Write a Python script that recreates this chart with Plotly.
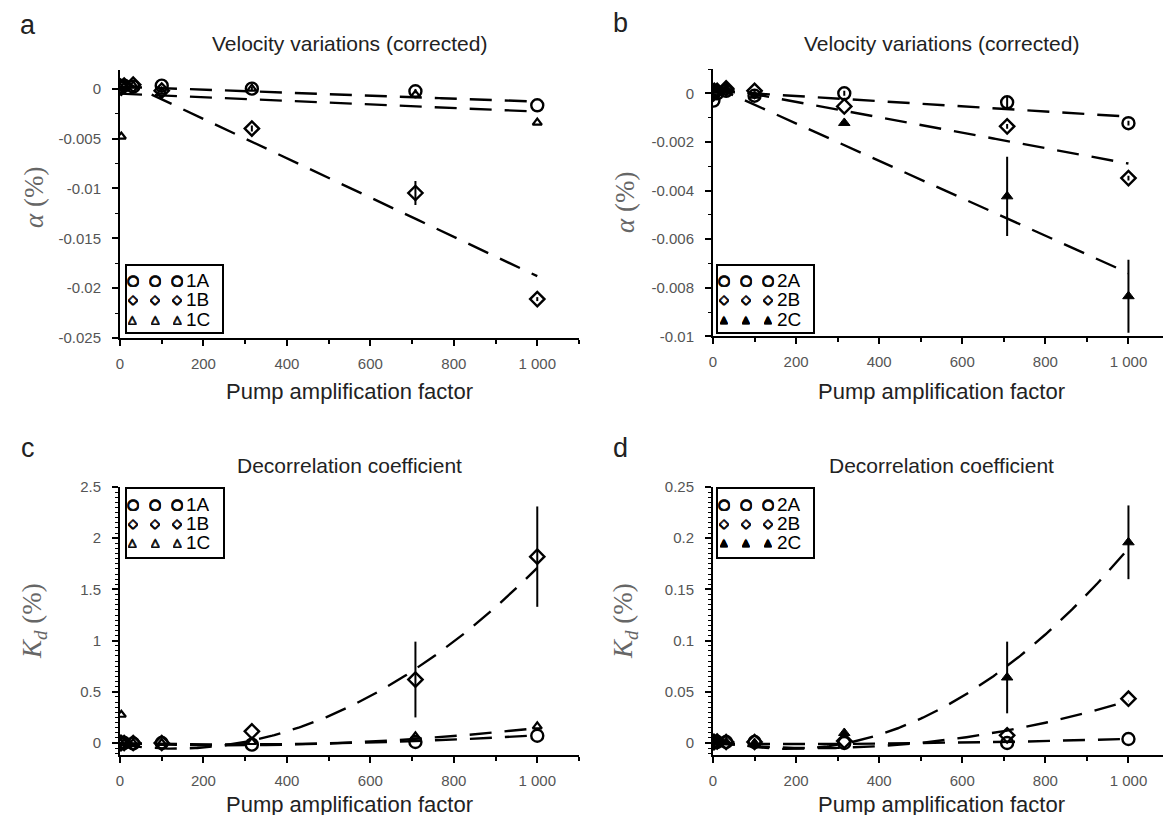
import numpy as np
import plotly.graph_objects as go

W, H = 1171, 815

# ---------------- data ----------------
pump = [1, 3.16, 10, 31.6, 100, 316, 708, 1000]

# panel a : velocity variations, series 1
a_1A = [0.0001, 0.0002, 0.0003, 0.0002, 0.0003, 0.0000, -0.00026, -0.00167]
a_1A_err = [0, 0, 0, 0, 0, 0.0002, 0.0002, 0]
a_1B = [0.0002, 0.0001, 0.0003, 0.0004, -0.0002, -0.0040, -0.01046, -0.0211]
a_1B_err = [0, 0, 0, 0, 0.0002, 0.0003, 0.0012, 0.0002]
a_1C = [0.0001, -0.0048, 0.0002, 0.0003, -0.0003, 0.0000, -0.0006, -0.0034]
a_1C_err = [0, 0, 0, 0, 0, 0, 0, 0]

# panel b : velocity variations, series 2
b_2A = [-0.0003, 0.0001, 0.0000, 0.0001, -0.0001, 0.0000, -0.00037, -0.00123]
b_2A_err = [0, 0, 0, 0, 0, 0.0001, 0.00025, 0.0001]
b_2B = [0.0000, 0.0001, 0.0001, 0.0002, 0.0001, -0.00054, -0.00136, -0.00349]
b_2B_err = [0, 0, 0, 0, 0, 0, 0.0001, 0.0001]
b_2C = [0.0001, 0.0002, 0.0002, 0.0002, -0.0001, -0.00122, -0.00424, -0.00835]
b_2C_err = [0, 0, 0, 0.0003, 0, 0, 0.00163, 0.0015]

# panel c : decorrelation, series 1
c_1A = [0.0, 0.0, 0.0, -0.005, 0.0, -0.016, 0.01, 0.071]
c_1A_err = [0, 0, 0, 0, 0, 0, 0, 0]
c_1B = [0.0, 0.0, 0.0, 0.0, 0.0, 0.114, 0.62, 1.82]
c_1B_err = [0, 0, 0, 0, 0, 0, 0.37, 0.49]
c_1C = [0.0, 0.276, 0.0, 0.0, 0.0, 0.01, 0.065, 0.163]
c_1C_err = [0, 0, 0, 0, 0, 0, 0, 0]

# panel d : decorrelation, series 2
d_2A = [0.001, 0.001, 0.001, 0.001, 0.001, 0.0, 0.0, 0.0039]
d_2A_err = [0, 0, 0, 0, 0, 0, 0, 0]
d_2B = [0.001, 0.001, 0.0015, 0.001, 0.001, 0.002, 0.0075, 0.0433]
d_2B_err = [0, 0, 0, 0, 0, 0, 0, 0]
d_2C = [0.001, 0.001, 0.001, 0.001, 0.0, 0.0098, 0.064, 0.196]
d_2C_err = [0, 0, 0, 0, 0, 0, 0.035, 0.036]

# fit coefficients (polynomial in pump/1000, lowest order first)
fit_a = {"1A": [0.0002, -0.0015], "1B": [0.0009, -0.0197], "1C": [-0.0005, -0.0018]}
fit_b = {"2A": [0.0001, -0.00106], "2B": [0.00028, -0.00317], "2C": [0.0003, -0.0077]}
fit_c = {"1A": [-0.0032, -0.0853, 0.1635], "1B": [-0.014, -0.621, 2.345], "1C": [-0.003, -0.156, 0.305]}
fit_d = {"2A": [-0.001, -0.002, 0.007], "2B": [0.0, -0.0403, 0.0813], "2C": [0.0039, -0.1066, 0.2927]}

x_tickvals = [0, 200, 400, 600, 800, 1000]
x_ticktext = ["0", "200", "400", "600", "800", "1 000"]
ya_tickvals = [0, -0.005, -0.01, -0.015, -0.02, -0.025]
ya_ticktext = ["0", "-0.005", "-0.01", "-0.015", "-0.02", "-0.025"]
yb_tickvals = [0, -0.002, -0.004, -0.006, -0.008, -0.01]
yb_ticktext = ["0", "-0.002", "-0.004", "-0.006", "-0.008", "-0.01"]
yc_tickvals = [0, 0.5, 1, 1.5, 2, 2.5]
yc_ticktext = ["0", "0.5", "1", "1.5", "2", "2.5"]
yd_tickvals = [0, 0.05, 0.1, 0.15, 0.2, 0.25]
yd_ticktext = ["0", "0.05", "0.1", "0.15", "0.2", "0.25"]

# ---------------- helpers ----------------
def px(x):
    return x / W

def py(y):
    return 1 - y / H

fig = go.Figure()

SANS = "Liberation Sans, Arial, sans-serif"
SERIF = "Liberation Serif, Times New Roman, serif"


def add_panel(idx, series, fits, filled_tri):
    xa = "x" if idx == 1 else f"x{idx}"
    ya = "y" if idx == 1 else f"y{idx}"
    xfit = np.linspace(0, 1000, 201)
    for name, coefs in fits.items():
        X = xfit / 1000.0
        yfit = sum(c * X ** k for k, c in enumerate(coefs))
        fig.add_trace(go.Scatter(x=xfit, y=yfit, mode="lines", xaxis=xa, yaxis=ya,
                                 line=dict(color="black", width=2.4, dash="22px,13px"),
                                 hoverinfo="skip", showlegend=False))
    for name, (vals, errs) in series.items():
        letter = name[-1]
        if letter == "C":
            if filled_tri:
                marker = dict(symbol="triangle-up", size=10, color="black",
                              line=dict(color="black", width=1))
            else:
                marker = dict(symbol="triangle-up-open", size=8, color="black",
                              line=dict(color="black", width=2.2))
        elif letter == "A":
            marker = dict(symbol="circle-open", size=12, color="black",
                          line=dict(color="black", width=2.4))
        else:
            marker = dict(symbol="diamond-open", size=11, color="black",
                          line=dict(color="black", width=2.4))
        fig.add_trace(go.Scatter(x=pump, y=vals, mode="markers", xaxis=xa, yaxis=ya,
                                 marker=marker, name=name, showlegend=False,
                                 error_y=dict(type="data", array=errs, visible=True,
                                              color="black", thickness=2, width=0)))


add_panel(1, {"1A": (a_1A, a_1A_err), "1B": (a_1B, a_1B_err), "1C": (a_1C, a_1C_err)}, fit_a, False)
add_panel(2, {"2A": (b_2A, b_2A_err), "2B": (b_2B, b_2B_err), "2C": (b_2C, b_2C_err)}, fit_b, True)
add_panel(3, {"1A": (c_1A, c_1A_err), "1B": (c_1B, c_1B_err), "1C": (c_1C, c_1C_err)}, fit_c, False)
add_panel(4, {"2A": (d_2A, d_2A_err), "2B": (d_2B, d_2B_err), "2C": (d_2C, d_2C_err)}, fit_d, True)

tickfont = dict(family=SANS, size=15, color="#555555")

def xaxis_cfg(x0, x1, anchor):
    return dict(domain=[px(x0), px(x1)], range=[0, 1100], anchor=anchor, automargin=False,
                showline=True, linecolor="black", linewidth=2,
                ticks="outside", ticklen=6, tickwidth=1.5, tickcolor="black",
                ticklabelstandoff=5,
                tickmode="array", tickvals=x_tickvals, ticktext=x_ticktext,
                tickfont=tickfont, showgrid=False, zeroline=False,
                minor=dict(tickmode="linear", tick0=0, dtick=100, ticks="outside",
                           ticklen=4, tickwidth=1.5, tickcolor="black", showgrid=False))

def yaxis_cfg(top, bottom, rng, tv, tt, minor_d, anchor):
    return dict(domain=[py(bottom), py(top)], range=rng, anchor=anchor, automargin=False,
                showline=True, linecolor="black", linewidth=2,
                ticks="outside", ticklen=6, tickwidth=1.5, tickcolor="black",
                ticklabelstandoff=8,
                tickmode="array", tickvals=tv, ticktext=tt,
                tickfont=tickfont, showgrid=False, zeroline=False,
                minor=dict(tickmode="linear", tick0=0, dtick=minor_d, ticks="outside",
                           ticklen=3, tickwidth=1.2, tickcolor="black", showgrid=False))

LX0, LX1 = 112, 571
RX0, RX1 = 705, 1162

fig.update_layout(
    width=W, height=H, margin=dict(l=0, r=0, t=0, b=0, autoexpand=False),
    paper_bgcolor="white", plot_bgcolor="white", showlegend=False,
    xaxis=xaxis_cfg(LX0, LX1, "y"),
    yaxis=yaxis_cfg(61.7, 330, [-0.025, 0.0019], ya_tickvals, ya_ticktext, 0.0025, "x"),
    xaxis2=xaxis_cfg(RX0, RX1, "y2"),
    yaxis2=yaxis_cfg(61, 328.3, [-0.01, 0.001], yb_tickvals, yb_ticktext, 0.001, "x2"),
    xaxis3=xaxis_cfg(LX0, LX1, "y3"),
    yaxis3=yaxis_cfg(479, 747, [-0.117, 2.5], yc_tickvals, yc_ticktext, 0.05, "x3"),
    xaxis4=xaxis_cfg(RX0, RX1, "y4"),
    yaxis4=yaxis_cfg(479, 747, [-0.0117, 0.25], yd_tickvals, yd_ticktext, 0.005, "x4"),
)

ann = []
shapes = []

def text(x, y, t, size, color="#222222", family=SANS, angle=0, xanchor="center"):
    ann.append(dict(x=px(x), y=py(y), xref="paper", yref="paper", text=t,
                    showarrow=False, textangle=angle, xanchor=xanchor, yanchor="middle",
                    font=dict(family=family, size=size, color=color)))

# panel letters
text(20, 17, "a", 27)
text(612, 15, "b", 27)
text(20, 440, "c", 27)
text(612, 440, "d", 27)

# titles
text((LX0 + LX1) / 2, 36, "Velocity variations (corrected)", 21)
text((RX0 + RX1) / 2, 36, "Velocity variations (corrected)", 21)
text((LX0 + LX1) / 2, 457, "Decorrelation coefficient", 21)
text((RX0 + RX1) / 2, 457, "Decorrelation coefficient", 21)

# x-axis titles
for cx, cy in [((LX0 + LX1) / 2, 384), ((RX0 + RX1) / 2, 384),
               ((LX0 + LX1) / 2, 796), ((RX0 + RX1) / 2, 796)]:
    text(cx, cy, "Pump amplification factor", 22)

# y-axis titles
text(26, 190, "<i>α</i> (%)", 27, color="#666666", family=SERIF, angle=-90)
text(617, 195, "<i>α</i> (%)", 27, color="#666666", family=SERIF, angle=-90)
text(26, 613, "<i>K<sub>d</sub></i> (%)", 27, color="#666666", family=SERIF, angle=-90)
text(617, 613, "<i>K<sub>d</sub></i> (%)", 27, color="#666666", family=SERIF, angle=-90)

# legends
BOLD_SHADOW = "0.7px 0 0 black, -0.7px 0 0 black, 0 0.7px 0 black, 0 -0.7px 0 black"

def legend(x0, y0, x1, y1, rows, labels, filled):
    shapes.append(dict(type="rect", xref="paper", yref="paper",
                       x0=px(x0), x1=px(x1), y0=py(y1), y1=py(y0),
                       line=dict(color="black", width=2), fillcolor="white"))
    glyphs = ["○", "◇", "▲" if filled else "△"]
    gsize = [14, 13, 10 if filled else 11]
    for ry, lab, g, gs in zip(rows, labels, glyphs, gsize):
        for gx in (x0 + 7, x0 + 29, x0 + 51):
            ann.append(dict(x=px(gx), y=py(ry), xref="paper", yref="paper", text=g,
                            showarrow=False, xanchor="center", yanchor="middle", height=14,
                            font=dict(family="DejaVu Sans", size=gs, color="black",
                                      weight="bold", shadow=BOLD_SHADOW)))
        ann.append(dict(x=px(x0 + 58), y=py(ry), xref="paper", yref="paper", text=lab,
                        showarrow=False, xanchor="left", yanchor="middle", height=16,
                        font=dict(family=SANS, size=19, color="black")))

legend(118, 257, 215, 325, [272, 291.5, 311], ["1A", "1B", "1C"], False)
legend(709, 257, 806, 325, [272, 291.5, 311], ["2A", "2B", "2C"], True)
legend(118, 480, 216, 550, [496, 515, 534], ["1A", "1B", "1C"], False)
legend(709, 480, 806, 550, [496, 515, 534], ["2A", "2B", "2C"], True)

fig.update_layout(annotations=ann, shapes=shapes)

fig.write_html("out.html")
